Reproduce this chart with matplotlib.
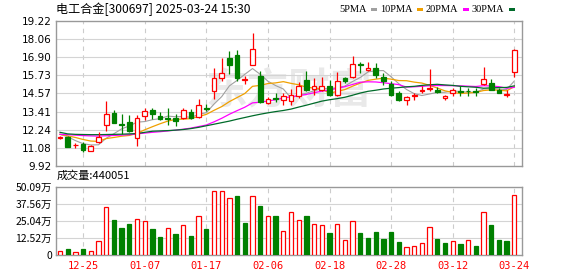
import numpy as np
import matplotlib.pyplot as plt
from matplotlib.patches import Rectangle

dates = ['12-20', '12-23', '12-24', '12-25', '12-26', '12-27', '12-30', '12-31',
         '01-02', '01-03', '01-06', '01-07', '01-08', '01-09', '01-10', '01-13',
         '01-14', '01-15', '01-16', '01-17', '01-20', '01-21', '01-22', '01-23',
         '01-24', '01-27', '02-05', '02-06', '02-07', '02-10', '02-11', '02-12',
         '02-13', '02-14', '02-17', '02-18', '02-19', '02-20', '02-21', '02-24',
         '02-25', '02-26', '02-27', '02-28', '03-03', '03-04', '03-05', '03-06',
         '03-07', '03-10', '03-11', '03-12', '03-13', '03-14', '03-17', '03-18',
         '03-19', '03-20', '03-21', '03-24']

opens = [11.70, 11.76, 11.24, 11.34, 10.91, 11.45, 12.57, 13.34, 12.62, 12.75,
         11.72, 13.11, 13.53, 13.10, 13.00, 12.98, 13.02, 13.39, 13.07, 13.66,
         14.73, 15.58, 16.86, 17.07, 15.45, 16.43, 15.69, 13.98, 14.30, 14.13,
         14.06, 14.38, 15.45, 14.86, 14.81, 15.02, 14.49, 15.56, 15.60, 16.45,
         16.10, 16.20, 15.66, 15.18, 14.60, 14.17, 14.38, 14.75, 14.88, 14.81,
         14.30, 14.60, 14.76, 14.76, 14.70, 15.18, 15.24, 14.77, 14.50, 15.92]
highs = [11.83, 11.87, 11.38, 11.45, 11.25, 12.10, 14.06, 13.53, 13.26, 13.21,
         13.21, 13.64, 13.64, 13.36, 13.64, 13.28, 13.66, 13.60, 14.24, 13.87,
         16.22, 16.86, 17.28, 17.39, 15.72, 18.45, 16.01, 14.34, 14.62, 14.62,
         14.86, 15.28, 16.03, 15.56, 15.60, 15.45, 15.98, 15.66, 16.98, 16.62,
         16.62, 16.52, 15.88, 15.39, 14.70, 14.43, 14.60, 15.02, 16.15, 14.98,
         14.45, 14.92, 15.02, 14.92, 14.92, 16.24, 15.49, 14.92, 14.81, 17.40]
lows = [11.62, 11.12, 11.09, 10.80, 10.89, 11.40, 12.15, 12.66, 11.95, 12.11,
        11.19, 12.89, 12.94, 12.90, 12.57, 12.49, 12.91, 12.91, 13.02, 13.45,
        14.19, 15.37, 15.79, 15.37, 15.15, 16.39, 13.98, 13.87, 14.04, 13.83,
        13.85, 14.28, 14.70, 14.49, 14.70, 14.38, 14.38, 15.24, 15.56, 15.88,
        16.03, 15.56, 15.13, 14.38, 14.11, 13.85, 14.13, 14.60, 14.70, 14.60,
        14.17, 14.43, 14.38, 14.38, 14.38, 15.13, 14.81, 14.60, 14.34, 15.62]
closes = [11.74, 11.15, 11.27, 10.96, 11.23, 11.80, 13.26, 12.68, 12.55, 12.15,
          13.00, 13.47, 13.26, 12.92, 12.95, 12.82, 13.49, 13.02, 13.81, 13.56,
          15.58, 15.90, 16.43, 15.58, 15.50, 17.43, 14.04, 14.24, 14.20, 14.41,
          14.49, 15.02, 14.81, 15.02, 15.05, 14.49, 15.34, 15.36, 16.45, 16.38,
          16.20, 15.77, 15.40, 14.45, 14.17, 14.34, 14.45, 14.80, 14.95, 14.65,
          14.42, 14.81, 14.66, 14.70, 14.66, 15.49, 14.81, 14.60, 14.56, 17.37]
prev_close = 11.62

# volume in 万 shares
volumes = [2.9, 4.4, 2.0, 4.4, 2.9, 10.2, 35.1, 25.6, 19.8, 22.7,
           26.1, 24.7, 19.0, 13.2, 19.5, 15.4, 21.7, 13.9, 28.3, 19.0,
           46.6, 46.6, 41.5, 43.2, 23.4, 43.0, 35.9, 28.3, 28.3, 17.3,
           31.2, 25.4, 28.3, 22.5, 21.7, 16.1, 22.5, 11.0, 24.7, 16.1,
           12.4, 16.9, 11.7, 16.8, 9.5, 5.6, 6.3, 8.5, 20.3, 11.7,
           8.8, 10.0, 8.1, 10.7, 6.6, 31.2, 22.0, 11.0, 10.2, 44.0]

ma5 = [11.95, 11.80, 11.55, 11.35, 11.27, 11.28, 11.70, 11.99, 12.30, 12.49,
       12.73, 12.77, 12.89, 12.96, 13.12, 13.08, 13.09, 13.04, 13.22, 13.34,
       13.89, 14.37, 15.06, 15.41, 15.80, 16.17, 15.80, 15.36, 15.08, 14.86,
       14.28, 14.47, 14.59, 14.75, 14.88, 14.88, 14.94, 15.05, 15.34, 15.60,
       15.95, 16.03, 16.04, 15.64, 15.20, 14.83, 14.56, 14.44, 14.54, 14.64,
       14.65, 14.73, 14.70, 14.65, 14.65, 14.86, 14.86, 14.85, 14.82, 15.37]
ma10 = [11.95, 11.85, 11.75, 11.62, 11.52, 11.50, 11.68, 11.75, 11.83, 11.88,
        12.01, 12.24, 12.44, 12.63, 12.80, 12.91, 12.93, 12.96, 13.09, 13.23,
        13.49, 13.73, 14.05, 14.31, 14.57, 15.03, 15.09, 15.21, 15.25, 15.33,
        15.22, 15.13, 14.97, 14.92, 14.87, 14.58, 14.71, 14.82, 15.04, 15.24,
        15.41, 15.49, 15.55, 15.49, 15.40, 15.39, 15.30, 15.24, 15.09, 14.92,
        14.74, 14.64, 14.57, 14.60, 14.64, 14.76, 14.80, 14.78, 14.74, 15.01]
ma20 = [11.95, 11.93, 11.90, 11.87, 11.85, 11.84, 11.86, 11.88, 11.90, 11.93,
        11.98, 12.03, 12.08, 12.12, 12.17, 12.22, 12.28, 12.35, 12.45, 12.55,
        12.75, 12.98, 13.24, 13.47, 13.69, 13.97, 14.01, 14.09, 14.17, 14.28,
        14.36, 14.43, 14.51, 14.62, 14.72, 14.80, 14.90, 15.01, 15.15, 15.29,
        15.32, 15.31, 15.26, 15.20, 15.14, 14.98, 15.00, 15.03, 15.07, 15.08,
        15.08, 15.07, 15.06, 15.04, 15.02, 15.07, 15.05, 15.01, 14.91, 14.96]
ma30 = [12.08, 11.98, 11.95, 11.94, 11.93, 11.93, 11.94, 11.95, 11.96, 11.98,
        12.00, 12.08, 12.15, 12.17, 12.19, 12.22, 12.26, 12.32, 12.40, 12.50,
        12.60, 12.70, 12.80, 12.92, 13.03, 13.14, 13.24, 13.33, 13.41, 13.48,
        13.57, 13.70, 13.82, 13.95, 14.08, 14.17, 14.24, 14.33, 14.46, 14.60,
        14.71, 14.78, 14.86, 14.91, 14.95, 15.00, 15.03, 15.09, 15.13, 15.16,
        15.12, 15.09, 15.03, 15.00, 14.97, 14.91, 14.93, 14.95, 14.96, 15.06]

price_ticks = [9.92, 11.08, 12.24, 13.41, 14.57, 15.73, 16.90, 18.06, 19.22]
vol_ticks = [0, 12.52, 25.04, 37.56, 50.09]
vol_labels = ['0', '12.52万', '25.04万', '37.56万', '50.09万']

RED = '#ff0000'
GREEN = '#008000'
CJK = ['Noto Sans CJK SC', 'DejaVu Sans']

W, H = 578, 276
fig = plt.figure(figsize=(W / 100, H / 100), dpi=100)
ax = fig.add_axes([56 / W, 1 - 166 / H, 466 / W, 145 / H])
axv = fig.add_axes([56 / W, 1 - 255 / H, 466 / W, 68.3 / H])

x = np.arange(len(closes))
o = np.array(opens)
c = np.array(closes)
up = c >= o
tick_idx = list(range(3, len(dates), 8))

for a in (ax, axv):
    a.set_xlim(-0.52, 60.0)
    for s in a.spines.values():
        s.set_color('#999999')
        s.set_linewidth(1.0)
    for t in tick_idx:
        a.axvline(t, color='#cccccc', lw=0.8, ls=(0, (4, 4)), zorder=0)
    a.tick_params(length=0, labelsize=7.5, colors='#000000', pad=3)

# watermark
ax.text(0.50, 0.52, '东方财富', transform=ax.transAxes, family=CJK,
        fontsize=30, fontweight='bold', color='#e9e9e9', ha='center',
        va='center', zorder=0)

# price panel
ax.set_ylim(9.92, 19.22)
ax.set_yticks(price_ticks)
ax.set_yticklabels([f'{v:.2f}' for v in price_ticks])
ax.set_xticks([])
for v in price_ticks[1:-1]:
    ax.axhline(v, color='#d4d4d4', lw=0.8, zorder=0)

ax.plot(x, ma5, color='#a0a0a0', lw=0.8, zorder=2)
ax.plot(x, ma10, color='#f0a000', lw=0.9, zorder=2)
ax.plot(x, ma20, color='#ff00ff', lw=0.9, zorder=2)
ax.plot(x, ma30, color='#006b2a', lw=0.9, zorder=2)

cols = np.where(up, RED, GREEN)
ax.vlines(x, lows, highs, colors=cols, lw=0.9, zorder=3)
body_lo = np.minimum(o, c)
body_h = np.maximum(np.abs(c - o), 0.05)
ax.bar(x[up], body_h[up], bottom=body_lo[up], width=0.62,
       facecolor='white', edgecolor=RED, lw=0.9, zorder=4)
ax.bar(x[~up], body_h[~up], bottom=body_lo[~up], width=0.62,
       facecolor=GREEN, edgecolor=GREEN, lw=0.9, zorder=4)

# volume panel
prev = np.concatenate([[prev_close], c[:-1]])
vup = c > prev
v = np.array(volumes)
axv.set_ylim(0, 50.09)
axv.set_yticks(vol_ticks)
axv.set_yticklabels(vol_labels, family=CJK)
for t in vol_ticks[1:-1]:
    axv.axhline(t, color='#d4d4d4', lw=0.8, zorder=0)
axv.bar(x[vup], v[vup], width=0.55, facecolor='white', edgecolor=RED,
        lw=0.9, zorder=3)
axv.bar(x[~vup], v[~vup], width=0.55, facecolor=GREEN, edgecolor=GREEN,
        lw=0.9, zorder=3)
axv.set_xticks(tick_idx)
axv.set_xticklabels([dates[i] for i in tick_idx], family='DejaVu Sans Mono',
                    color=RED, fontsize=7.5)
axv.tick_params(axis='x', pad=4)

# title and legend
fig.text(56 / W, 1 - 9 / H, '电工合金[300697] 2025-03-24 15:30', family=CJK,
         fontsize=8.7, va='center', ha='left')
fig.text(57 / W, 1 - 176 / H, '成交量:440051', family=CJK, fontsize=8.0,
         va='center', ha='left')

legend = [('5PMA', '#a0a0a0', 339), ('10PMA', '#f0a000', 380),
          ('20PMA', '#ff00ff', 426), ('30PMA', '#006b2a', 472)]
for name, col, px in legend:
    t = fig.text(px / W, 1 - 9 / H, name, family='Liberation Serif',
                 fontsize=7.5, va='center', ha='left')
    fig.canvas.draw()
    bb = t.get_window_extent()
    fig.patches.append(Rectangle(((bb.x1 + 4) / W, 1 - 11 / H), 6 / W, 3.5 / H,
                                 transform=fig.transFigure, facecolor=col,
                                 edgecolor='none'))

fig.savefig('out.png', dpi=100)
